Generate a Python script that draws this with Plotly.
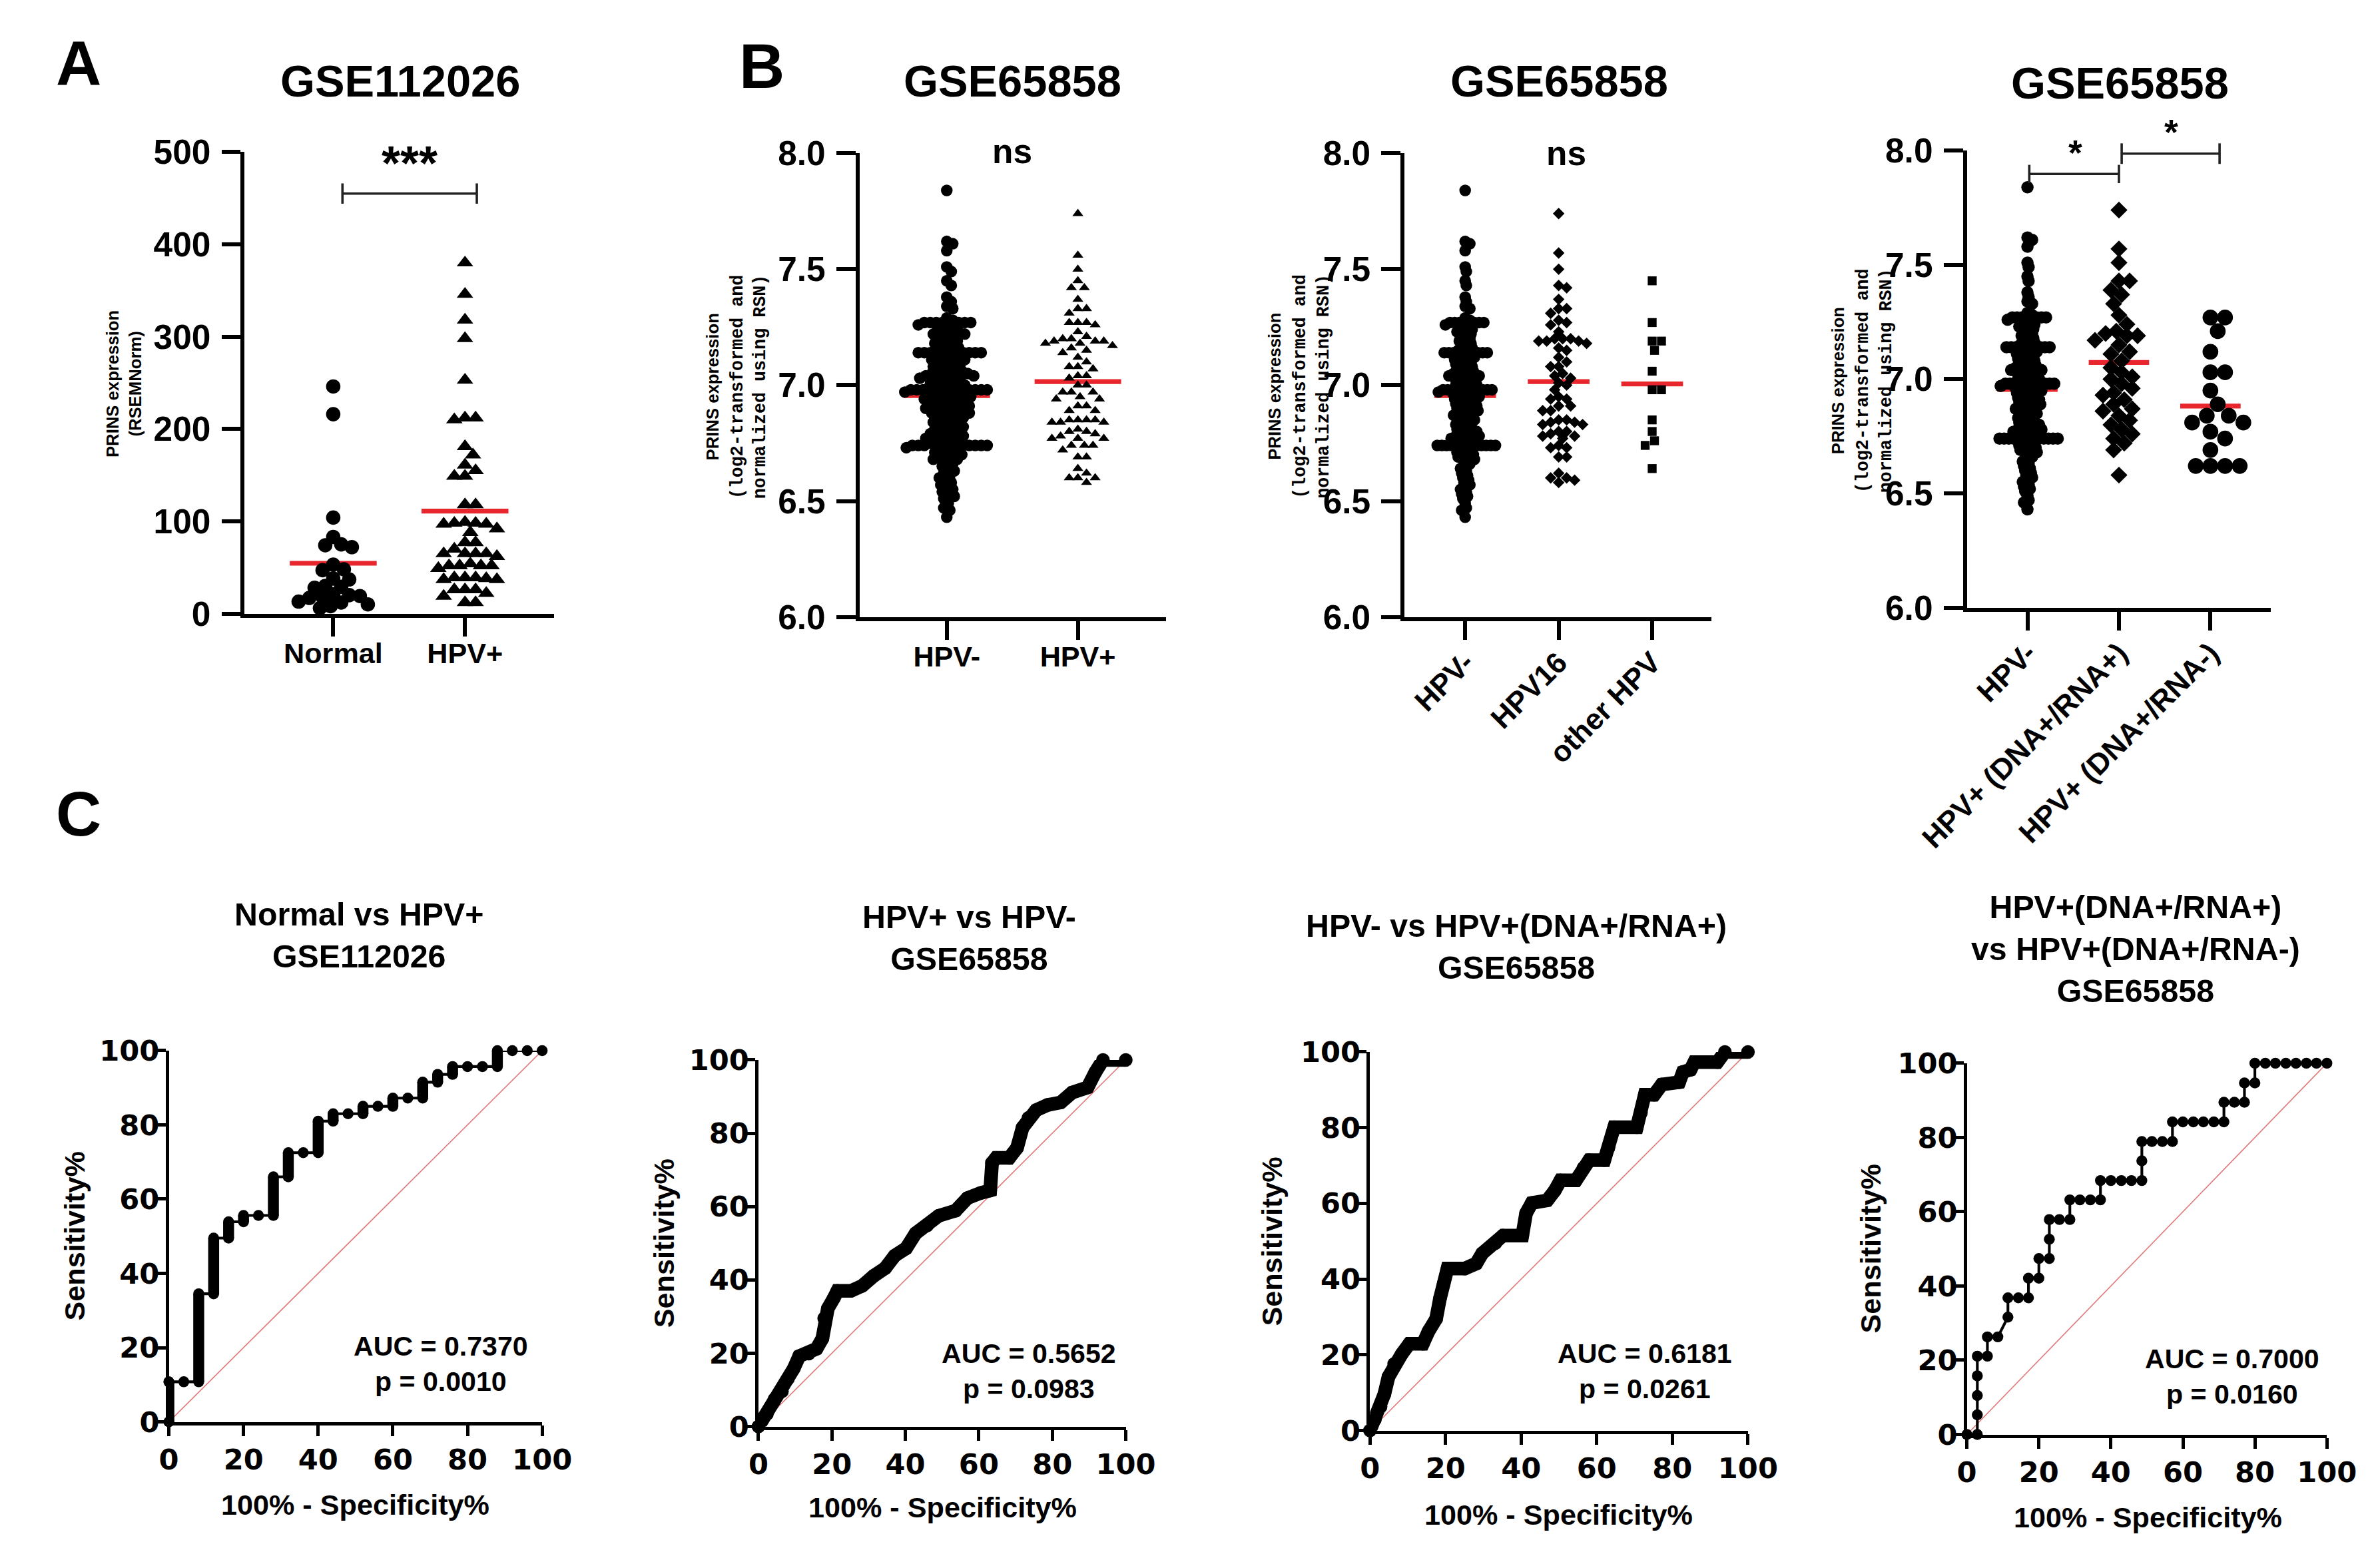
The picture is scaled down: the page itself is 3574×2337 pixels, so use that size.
"""
PRINS expression figure: (A) GSE112026 dot plot, (B) GSE65858 dot plots by
HPV status, (C) ROC curves.

Run: python3 plot.py  -> writes out.html
"""

import plotly.graph_objects as go

W, H = 3574, 2337
SANS = "Liberation Sans"
MONO = "Liberation Mono"
WIDE = "DejaVu Sans"
RED = "#e8262d"

# The page photo shows the figure slightly shrunk and offset, so positions are
# written in target-image pixels and mapped into figure pixels here.
KX, BX = 1.0343, -87.2
KY, BY = 1.0229, -35.0
S = 1.028  # size compensation for fonts, markers, lines

# ---------------- A: GSE112026 ----------------
a_groups = ["Normal", "HPV+"]
a_normal = [246, 216, 104, 83, 75, 74, 72, 53, 48, 47, 38, 37, 30, 29, 28,
            21, 20, 19, 18, 17, 13, 12, 10, 8, 6]
a_hpv = [380, 346, 318, 298, 253, 212, 212, 210, 181, 172, 161, 155, 149, 149,
         118, 118, 99, 98, 98, 97, 97, 92, 88, 77, 77, 70, 65, 65, 65, 65, 62,
         54, 52, 52, 52, 52, 49, 39, 39, 39, 38, 37, 37, 26, 26, 26, 22, 19,
         12, 12]
a_means = [54.5, 111]
a_yticks = [0, 100, 200, 300, 400, 500]

# ---------------- B: GSE65858 ----------------
b_hpv_neg = [
    7.84, 7.62, 7.61, 7.58, 7.51, 7.49, 7.45, 7.43, 7.38, 7.36, 7.34, 7.33,
    7.29, 7.28, 7.27, 7.27, 7.27, 7.27, 7.27, 7.27, 7.27, 7.26, 7.26, 7.25,
    7.24, 7.24, 7.23, 7.23, 7.22, 7.22,
    7.21, 7.20, 7.20, 7.19, 7.18, 7.18, 7.17, 7.16, 7.16, 7.15,
    7.15, 7.14, 7.14, 7.14, 7.14, 7.14, 7.14, 7.14, 7.14, 7.13, 7.12, 7.12,
    7.12, 7.11, 7.11, 7.10, 7.10, 7.09, 7.09, 7.08, 7.08, 7.07, 7.07, 7.06,
    7.06, 7.05, 7.05, 7.05,
    7.04, 7.04, 7.04, 7.04, 7.03, 7.03,
    7.03, 7.02, 7.02, 7.01, 7.01, 7.00, 7.00, 7.00, 6.99, 6.99,
    6.98, 6.98, 6.98, 6.98, 6.98, 6.98, 6.98, 6.98, 6.98, 6.97, 6.97, 6.97,
    6.96, 6.96, 6.96, 6.95, 6.95, 6.95, 6.94, 6.94, 6.94, 6.93, 6.93, 6.92,
    6.92, 6.92, 6.91, 6.91, 6.90, 6.90, 6.90, 6.89, 6.89, 6.88, 6.88, 6.88,
    6.87, 6.87, 6.86, 6.86, 6.85, 6.85,
    6.84, 6.84, 6.83, 6.83, 6.82, 6.82, 6.81, 6.81, 6.80, 6.80, 6.79, 6.79,
    6.78, 6.78, 6.78, 6.77, 6.77, 6.76, 6.76, 6.76,
    6.75, 6.74, 6.74, 6.74, 6.74, 6.74, 6.74, 6.74, 6.74, 6.74, 6.74, 6.74,
    6.73, 6.72, 6.72,
    6.71, 6.71, 6.70, 6.70, 6.69, 6.69, 6.68, 6.68, 6.67, 6.66,
    6.65, 6.64, 6.63, 6.62, 6.61, 6.60, 6.59, 6.58, 6.57, 6.56,
    6.55, 6.54, 6.53, 6.52, 6.51, 6.49, 6.47, 6.46, 6.43,
]
b_hpv_pos = [
    7.74, 7.56, 7.50, 7.45, 7.42, 7.42, 7.37, 7.33, 7.33, 7.31, 7.27, 7.27,
    7.26, 7.27, 7.23, 7.20, 7.18, 7.17, 7.19, 7.21, 7.19, 7.18, 7.20, 7.19,
    7.14, 7.16, 7.15, 7.10, 7.12, 7.08, 7.08, 7.07, 7.03, 7.04, 7.04, 7.00,
    7.00, 6.97, 6.97, 6.97, 6.95, 6.94, 6.94, 6.89, 6.91, 6.91, 6.89, 6.84,
    6.84, 6.85, 6.85, 6.85, 6.84, 6.85, 6.80, 6.79, 6.80, 6.81, 6.77, 6.77,
    6.77, 6.78, 6.74, 6.74, 6.74, 6.72, 6.69, 6.69, 6.64, 6.60, 6.62, 6.60,
    6.60, 6.58,
]
b_hpv16 = [
    7.74, 7.57, 7.50, 7.43, 7.42, 7.37, 7.33, 7.33, 7.31, 7.28, 7.27, 7.26,
    7.23, 7.20, 7.20, 7.20, 7.19, 7.19, 7.18, 7.19, 7.16, 7.15, 7.12, 7.10,
    7.08, 7.08, 7.04, 7.05, 7.03, 7.01, 7.00, 6.98, 6.95, 6.94, 6.94, 6.91,
    6.91, 6.89, 6.89, 6.85, 6.85, 6.84, 6.84, 6.83, 6.83, 6.80, 6.80, 6.78,
    6.78, 6.77, 6.79, 6.74, 6.73, 6.73, 6.69, 6.69, 6.62, 6.60, 6.59, 6.60,
    6.58,
]
b_hpv_other = [7.45, 7.27, 7.19, 7.19, 7.15, 7.06, 6.98, 6.98, 6.85, 6.80,
               6.76, 6.74, 6.64]
b_dna_rna_pos = [
    7.74, 7.57, 7.51, 7.43, 7.43, 7.39, 7.37, 7.33, 7.28, 7.24, 7.21, 7.20,
    7.19, 7.19, 7.17, 7.15, 7.12, 7.11, 7.08, 7.05, 7.03, 7.01, 7.00, 6.98,
    6.96, 6.94, 6.93, 6.91, 6.89, 6.87, 6.86, 6.84, 6.82, 6.80, 6.78, 6.76,
    6.74, 6.72, 6.69, 6.58,
]
b_dna_rna_neg = [7.27, 7.27, 7.21, 7.12, 7.03, 7.03, 6.95, 6.89, 6.84, 6.84,
                 6.81, 6.81, 6.77, 6.74, 6.69, 6.62, 6.62, 6.62, 6.62]

b1_groups = ["HPV-", "HPV+"]
b1_means = [6.955, 7.015]
b2_groups = ["HPV-", "HPV16", "other HPV"]
b2_means = [6.955, 7.015, 7.005]
b3_groups = ["HPV-", "HPV+ (DNA+/RNA+)", "HPV+ (DNA+/RNA-)"]
b3_means = [6.955, 7.073, 6.882]
b_yticks = [6.0, 6.5, 7.0, 7.5, 8.0]

# ---------------- C: ROC curves ----------------
roc_ticks = [0, 20, 40, 60, 80, 100]
chance = [0, 100]

c1_fpr = [0, 0, 4, 8, 8, 12, 12, 16, 16, 20, 20, 24, 28, 28, 32, 32, 36, 40,
          40, 44, 44, 48, 52, 52, 56, 60, 60, 64, 68, 68, 72, 72, 76, 76, 80,
          84, 88, 88, 92, 96, 100]
c1_sens = [0, 10.8, 10.8, 10.8, 34.5, 34.5, 49.5, 49.5, 53.9, 53.9, 55.6,
           55.6, 55.6, 66, 66, 72.5, 72.5, 72.5, 81, 81, 83, 83, 83, 85, 85,
           85, 87.2, 87.2, 87.2, 91.5, 91.5, 93.6, 93.6, 95.7, 95.7, 95.7,
           95.7, 100, 100, 100, 100]

c2_fpr = [0, 2.3, 4.4, 6.4, 8.0, 9.6, 11.1, 13.7, 15.8, 17.4, 17.9, 18.9,
          20.5, 21.5, 25.2, 28.3, 31.4, 34.5, 37.1, 40.2, 42.8, 45.9, 49.1,
          53.7, 56.9, 60.5, 63.1, 63.6, 64.7, 68.3, 70.4, 71.9, 73.5, 75.6,
          78.7, 82.3, 85.4, 89.6, 91.7, 93.8, 100]
c2_sens = [0, 3.4, 7.5, 9.6, 13.0, 15.8, 19.2, 19.9, 21.2, 24.0, 29.5, 32.2,
           35.0, 37.0, 37.0, 38.4, 41.1, 43.2, 46.6, 48.6, 52.7, 54.8, 57.5,
           58.9, 62.3, 63.7, 64.4, 71.9, 73.3, 73.3, 76.0, 81.5, 84.2, 86.3,
           87.7, 88.4, 91.1, 92.5, 96.6, 100, 100]

c3_fpr = [0, 1.3, 2.8, 3.8, 4.9, 6.4, 8.4, 10.4, 14.0, 15.5, 17.5, 18.5,
          19.5, 20.5, 25.1, 28.1, 29.7, 33.2, 35.2, 40.3, 41.3, 42.8, 46.9,
          48.9, 50.4, 54.5, 56.5, 58.0, 62.0, 63.1, 64.6, 70.6, 71.7, 72.7,
          75.2, 77.2, 81.8, 82.8, 84.8, 85.8, 91.9, 93.9, 100]
c3_sens = [0, 2.9, 6.3, 9.6, 14.2, 17.6, 20.2, 22.9, 22.9, 26.2, 29.5, 34.8,
           38.8, 42.8, 42.8, 44.1, 46.8, 49.5, 51.5, 51.5, 57.4, 60.1, 60.8,
           63.4, 66.1, 66.1, 69.4, 71.4, 71.4, 74.7, 80.1, 80.1, 84.0, 88.7,
           88.7, 91.4, 92.0, 94.7, 95.3, 97.3, 97.3, 100, 100]

c4_fpr = [0, 2.9, 2.9, 2.9, 2.9, 2.9, 5.7, 5.7, 8.6, 11.4, 11.4, 14.3, 17.1,
          17.1, 20, 20, 22.9, 22.9, 22.9, 25.7, 28.6, 28.6, 31.4, 34.3, 37.1,
          37.1, 40, 42.9, 45.7, 48.6, 48.6, 48.6, 51.4, 54.3, 57.1, 57.1, 60,
          62.9, 65.7, 68.6, 71.4, 71.4, 74.3, 77.1, 77.1, 80, 80, 82.9, 85.7,
          88.6, 91.4, 94.3, 97.1, 100]
c4_sens = [0, 0, 5.3, 10.5, 15.8, 21.1, 21.1, 26.3, 26.3, 31.6, 36.8, 36.8,
           36.8, 42.1, 42.1, 47.4, 47.4, 52.6, 57.9, 57.9, 57.9, 63.2, 63.2,
           63.2, 63.2, 68.4, 68.4, 68.4, 68.4, 68.4, 73.7, 78.9, 78.9, 78.9,
           78.9, 84.2, 84.2, 84.2, 84.2, 84.2, 84.2, 89.5, 89.5, 89.5, 94.7,
           94.7, 100, 100, 100, 100, 100, 100, 100, 100]

roc_titles = ["Normal vs HPV+<br>GSE112026",
              "HPV+ vs HPV-<br>GSE65858",
              "HPV- vs HPV+(DNA+/RNA+)<br>GSE65858",
              "HPV+(DNA+/RNA+)<br>vs HPV+(DNA+/RNA-)<br>GSE65858"]
roc_auc = ["AUC = 0.7370<br>p = 0.0010",
           "AUC = 0.5652<br>p = 0.0983",
           "AUC = 0.6181<br>p = 0.0261",
           "AUC = 0.7000<br>p = 0.0160"]


def px(x):
    """Target-image x pixel -> paper fraction."""
    return (KX * x + BX) / W


def py(y):
    """Target-image y pixel (from top) -> paper fraction."""
    return 1 - (KY * y + BY) / H


def swarm(vals, d, unit_px, ypu, step=0.25):
    """Greedy beeswarm: horizontal offsets (data units) so dots don't pile up."""
    order = sorted(range(len(vals)), key=lambda i: -vals[i])
    placed = []
    offs = [0.0] * len(vals)
    for i in order:
        y = vals[i] * ypu
        k = 0
        while True:
            cand = ((k + 1) // 2) * d * step * (1 if k % 2 else -1)
            if all((cand - cx) ** 2 + (y - cy) ** 2 >= d * d for cx, cy in placed):
                break
            k += 1
        placed.append((cand, y))
        offs[i] = cand / unit_px
    return offs


def note(x, y, text, size, family=SANS, angle=0, weight="bold"):
    return dict(x=px(x), y=py(y), xref="paper", yref="paper", text=text,
                showarrow=False, textangle=angle, xanchor="center",
                yanchor="middle",
                font=dict(family=family, size=size * S, color="black",
                          weight=weight))


def axis(family, size, lw, tl, standoff):
    return dict(showline=True, linecolor="black", linewidth=lw * S,
                ticks="outside", tickcolor="black", tickwidth=lw * S,
                ticklen=tl * S, showgrid=False, zeroline=False, fixedrange=True,
                ticklabelstandoff=standoff,
                tickfont=dict(family=family, size=size * S, color="black",
                              weight="bold"))


fig = go.Figure()
layout = {}
annotations = []
shapes = []

# ---------------- dot plots (A, B) ----------------
dot_panels = {
    1: dict(box=(368, 833, 226, 921), xr=[-0.672, 1.677], yr=[0, 500],
            yt=a_yticks, fmt="", groups=a_groups, angle=0, means=a_means,
            series=[(a_normal, "circle", 21, 16), (a_hpv, "triangle-up", 21, 16)]),
    2: dict(box=(1292, 1753, 228, 926), xr=[-0.665, 1.675], yr=[6, 8],
            yt=b_yticks, fmt=".1f", groups=b1_groups, angle=0, means=b1_means,
            series=[(b_hpv_neg, "circle", 17, 9),
                    (b_hpv_pos, "triangle-up", 14, 13)]),
    3: dict(box=(2111, 2572, 228, 926), xr=[-0.648, 2.633], yr=[6, 8],
            yt=b_yticks, fmt=".1f", groups=b2_groups, angle=-45, means=b2_means,
            series=[(b_hpv_neg, "circle", 17, 7), (b_hpv16, "diamond", 13, 12),
                    (b_hpv_other, "square", 13, 14)]),
    4: dict(box=(2956, 3413, 224, 912), xr=[-0.662, 2.662], yr=[6, 8],
            yt=b_yticks, fmt=".1f", groups=b3_groups, angle=-45, means=b3_means,
            series=[(b_hpv_neg, "circle", 18, 7), (b_dna_rna_pos, "diamond", 19, 16),
                    (b_dna_rna_neg, "circle", 23, 22)]),
}


def data_px(n, xv, yv):
    """Data value of dot panel n -> target-image pixel position."""
    p = dot_panels[n]
    l, r, t, b = p["box"]
    (x0, x1), (y0, y1) = p["xr"], p["yr"]
    return l + (xv - x0) / (x1 - x0) * (r - l), b - (yv - y0) / (y1 - y0) * (b - t)


for n, p in dot_panels.items():
    sfx = "" if n == 1 else str(n)
    l, r, t, b = p["box"]
    unit_px = (r - l) / (p["xr"][1] - p["xr"][0])
    ypu = (b - t) / (p["yr"][1] - p["yr"][0])
    xa = axis(SANS, 42 if n < 3 else 43, 6, 28, -12 if n < 3 else -10)
    xa.update(domain=[px(l), px(r)], range=p["xr"], anchor="y" + sfx,
              tickvals=list(range(len(p["groups"]))), ticktext=p["groups"],
              tickangle=p["angle"])
    ya = axis(SANS, 50, 6, 28, 6)
    ya.update(domain=[py(b), py(t)], range=p["yr"], anchor="x" + sfx,
              tickvals=p["yt"], tickformat=p["fmt"])
    layout["xaxis" + sfx] = xa
    layout["yaxis" + sfx] = ya
    for i, m in enumerate(p["means"]):
        fig.add_trace(go.Scatter(
            x=[i - 0.33, i + 0.33], y=[m, m], mode="lines",
            line=dict(color=RED, width=7 * S), xaxis="x" + sfx,
            yaxis="y" + sfx, hoverinfo="skip"))
    for i, (vals, sym, size, d) in enumerate(p["series"]):
        offs = swarm(vals, d, unit_px, ypu)
        fig.add_trace(go.Scatter(
            x=[i + o for o in offs], y=vals, mode="markers", cliponaxis=False,
            marker=dict(symbol=sym, size=size * S, color="black",
                        line=dict(width=0)),
            xaxis="x" + sfx, yaxis="y" + sfx))

# panel titles, y titles, letters
for x, y, txt in [(602, 119, "GSE112026"), (1522, 119, "GSE65858"),
                  (2343, 119, "GSE65858"), (3186, 122, "GSE65858")]:
    annotations.append(note(x, y, txt, 65))
# the letters sit at the very edge; nudged right so they are not cut off
for x, y, txt in [(118, 92, "A"), (1145, 96, "B"), (118, 1222, "C")]:
    annotations.append(note(x, y, txt, 92))

annotations.append(note(186, 575, "PRINS expression<br>(RSEMNorm)", 25,
                        angle=-90))
for xs, xm, yc in [(1071, 1126, 579), (1916, 1972, 579), (2763, 2818, 570)]:
    annotations.append(note(xs, yc, "PRINS expression", 25, angle=-90))
    annotations.append(note(xm, yc,
                            "(log2-transformed and<br>normalized using RSN)",
                            26, family=MONO, angle=-90))

# significance marks (brackets in data units, drawn in paper space)
BR = dict(color="#222", width=3.5 * S)
for n, x0, x1, yb, dy in [(1, 0.07, 1.09, 455, 11),
                          (4, 0.02, 1.0, 7.898, 0.04),
                          (4, 1.03, 2.1, 7.987, 0.045)]:
    (ax0, ayb), (ax1, _) = data_px(n, x0, yb), data_px(n, x1, yb)
    _, ylo = data_px(n, x0, yb - dy)
    _, yhi = data_px(n, x0, yb + dy)
    shapes.append(dict(type="line", xref="paper", yref="paper", x0=px(ax0),
                       x1=px(ax1), y0=py(ayb), y1=py(ayb), line=BR))
    for xe in (ax0, ax1):
        shapes.append(dict(type="line", xref="paper", yref="paper", x0=px(xe),
                           x1=px(xe), y0=py(ylo), y1=py(yhi), line=BR))
for n, xv, yv, txt, size in [(1, 0.58, 488, "***", 70), (2, 0.5, 8.01, "ns", 50),
                             (3, 1.08, 8.0, "ns", 50), (4, 0.52, 7.99, "*", 52),
                             (4, 1.57, 8.08, "*", 52)]:
    ax_, ay_ = data_px(n, xv, yv)
    annotations.append(note(ax_, ay_, txt, size))

# ---------------- ROC panels (C) ----------------
roc_panels = [
    dict(n=5, box=(254, 815, 1579, 2138), fpr=c1_fpr, sens=c1_sens, style="runs",
         title=(540, 1405), auc=(663, 2051), xt=(534, 2263), yt=112),
    dict(n=6, box=(1140, 1692, 1593, 2145), fpr=c2_fpr, sens=c2_sens, style="band",
         title=(1457, 1409), auc=(1546, 2062), xt=(1417, 2267), yt=998),
    dict(n=7, box=(2059, 2627, 1581, 2151), fpr=c3_fpr, sens=c3_sens, style="band",
         title=(2279, 1422), auc=(2472, 2062), xt=(2342, 2278), yt=1912),
    dict(n=8, box=(2956, 3497, 1598, 2157), fpr=c4_fpr, sens=c4_sens, style="dots",
         title=(3210, 1426), auc=(3355, 2070), xt=(3228, 2282), yt=2811),
]

for k, p in enumerate(roc_panels):
    sfx = str(p["n"])
    l, r, t, b = p["box"]
    xa = axis(WIDE, 42, 5, 16, -2)
    xa.update(domain=[px(l), px(r)], range=[0, 100], anchor="y" + sfx,
              tickvals=roc_ticks)
    ya = axis(WIDE, 42, 5, 16, -16)
    ya.update(domain=[py(b), py(t)], range=[0, 100], anchor="x" + sfx,
              tickvals=roc_ticks)
    layout["xaxis" + sfx] = xa
    layout["yaxis" + sfx] = ya
    ref = dict(xaxis="x" + sfx, yaxis="y" + sfx)

    fig.add_trace(go.Scatter(x=chance, y=chance, mode="lines",
                             line=dict(color="#e07a7a", width=1.6 * S), **ref))
    fpr, sens = p["fpr"], p["sens"]
    if p["style"] == "band":
        fig.add_trace(go.Scatter(x=fpr, y=sens, mode="lines+markers",
                                 cliponaxis=False,
                                 line=dict(color="black", width=20 * S),
                                 marker=dict(size=20 * S, color="black"), **ref))
    else:
        fig.add_trace(go.Scatter(x=fpr, y=sens, mode="lines+markers",
                                 cliponaxis=False,
                                 line=dict(color="black", width=4 * S),
                                 marker=dict(size=16 * S, color="black"), **ref))
        if p["style"] == "runs":
            vx, vy = [], []
            for x0, y0, x1, y1 in zip(fpr, sens, fpr[1:], sens[1:]):
                if x0 == x1:
                    vx += [x0, x1, None]
                    vy += [y0, y1, None]
            fig.add_trace(go.Scatter(x=vx, y=vy, mode="lines",
                                     line=dict(color="black", width=16 * S),
                                     **ref))

    tx, ty = p["title"]
    annotations.append(note(tx, ty, roc_titles[k], 47))
    ax_, ay_ = p["auc"]
    annotations.append(note(ax_, ay_, roc_auc[k], 40))
    xx, xy = p["xt"]
    annotations.append(note(xx, xy, "100% - Specificity%", 42))
    annotations.append(note(p["yt"], (t + b) / 2, "Sensitivity%", 42, angle=-90))

fig.update_layout(
    width=W, height=H,
    margin=dict(l=0, r=0, t=0, b=0),
    paper_bgcolor="white", plot_bgcolor="white",
    showlegend=False,
    annotations=annotations,
    shapes=shapes,
    **layout,
)

fig.write_html("out.html")
